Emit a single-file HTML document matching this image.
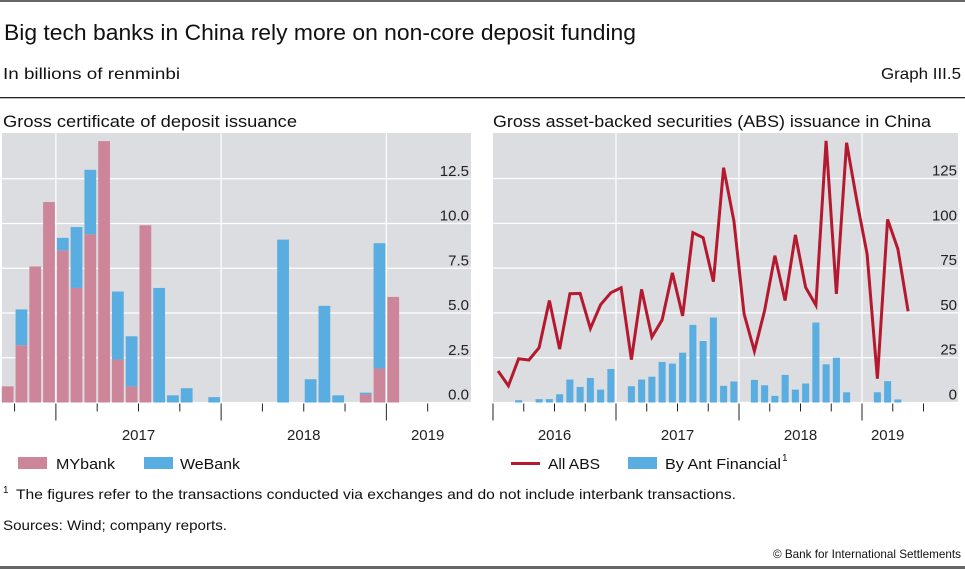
<!DOCTYPE html>
<html><head><meta charset="utf-8"><style>
html,body{margin:0;padding:0;background:#fff;}
svg{display:block;font-family:"Liberation Sans",sans-serif;}
</style></head><body>
<svg id="chart" width="965" height="569" viewBox="0 0 965 569" xmlns="http://www.w3.org/2000/svg">
<rect x="0" y="0" width="965" height="2" fill="#666"/>
<rect x="0" y="566" width="965" height="3" fill="#666"/>
<text x="4" y="40" font-size="22" fill="#111" textLength="632" lengthAdjust="spacingAndGlyphs">Big tech banks in China rely more on non-core deposit funding</text>
<text x="3" y="79" font-size="16" fill="#111" textLength="177" lengthAdjust="spacingAndGlyphs">In billions of renminbi</text>
<text x="961" y="79" font-size="16" fill="#111" text-anchor="end" textLength="80" lengthAdjust="spacingAndGlyphs">Graph III.5</text>
<rect x="0" y="97" width="965" height="1.3" fill="#222"/>
<text x="3" y="127" font-size="17" fill="#111" textLength="294" lengthAdjust="spacingAndGlyphs">Gross certificate of deposit issuance</text>
<text x="493" y="127" font-size="17" fill="#111" textLength="438" lengthAdjust="spacingAndGlyphs">Gross asset-backed securities (ABS) issuance in China</text>
<g id="left"></g>
<g id="right"></g>
<g>
<rect x="18" y="457" width="29" height="12" fill="#cc8599"/>
<text x="56" y="469" font-size="15" fill="#111" textLength="59" lengthAdjust="spacingAndGlyphs">MYbank</text>
<rect x="144" y="457" width="29" height="12" fill="#5aade0"/>
<text x="180" y="469" font-size="15" fill="#111" textLength="60" lengthAdjust="spacingAndGlyphs">WeBank</text>
</g>
<g>
<rect x="511" y="462" width="29" height="3" fill="#b5192f"/>
<text x="548" y="469" font-size="15" fill="#111" textLength="52" lengthAdjust="spacingAndGlyphs">All ABS</text>
<rect x="628" y="457" width="29" height="12" fill="#5aade0"/>
<text x="665" y="469" font-size="15" fill="#111" textLength="116" lengthAdjust="spacingAndGlyphs">By Ant Financial</text>
<text x="782" y="461" font-size="10" fill="#111">1</text>
</g>
<text x="3" y="493" font-size="10" fill="#111">1</text>
<text x="16" y="499" font-size="14" fill="#111" textLength="720" lengthAdjust="spacingAndGlyphs">The figures refer to the transactions conducted via exchanges and do not include interbank transactions.</text>
<text x="3" y="530" font-size="14" fill="#111" textLength="224" lengthAdjust="spacingAndGlyphs">Sources: Wind; company reports.</text>
<text x="961" y="558" font-size="12" fill="#111" text-anchor="end" textLength="188" lengthAdjust="spacingAndGlyphs">© Bank for International Settlements</text>
</svg>
<script>
// Left chart data: monthly, Sep 2016 .. Jan 2019
const cdMonths = ["2016-09","2016-10","2016-11","2016-12","2017-01","2017-02","2017-03","2017-04","2017-05","2017-06","2017-07","2017-08","2017-09","2017-10","2017-11","2017-12","2018-01","2018-02","2018-03","2018-04","2018-05","2018-06","2018-07","2018-08","2018-09","2018-10","2018-11","2018-12","2019-01"];
const myBank = [0.9,3.2,7.6,11.2,8.5,6.4,9.4,14.6,2.4,0.9,9.9,0,0,0,0,0,0,0,0,0,0,0,0,0,0,0,0.45,1.9,5.9];
const weBank = [0,2.0,0,0,0.7,3.4,3.6,0,3.8,2.8,0,6.4,0.4,0.8,0,0.3,0,0,0,0,9.1,0,1.3,5.4,0.4,0,0.1,7.0,0];
const leftTicks = [0,2.5,5,7.5,10,12.5];
const leftTickLabels = ["0.0","2.5","5.0","7.5","10.0","12.5"];
const leftYears = ["2017","2018","2019"];
// Right chart data: monthly, Jan 2016 .. May 2019
const absMonths = ["2016-01","2016-02","2016-03","2016-04","2016-05","2016-06","2016-07","2016-08","2016-09","2016-10","2016-11","2016-12","2017-01","2017-02","2017-03","2017-04","2017-05","2017-06","2017-07","2017-08","2017-09","2017-10","2017-11","2017-12","2018-01","2018-02","2018-03","2018-04","2018-05","2018-06","2018-07","2018-08","2018-09","2018-10","2018-11","2018-12","2019-01","2019-02","2019-03","2019-04","2019-05"];
const allAbs = [17.6,9.3,24.4,23.7,30.6,56.9,29.8,60.7,60.9,41.3,54.6,61.3,64,23.9,63.1,36.5,46.1,72.4,48.3,94.8,92,67.4,131,101.3,49.4,28.7,51.3,81.9,56.9,93.5,64.3,54.3,146,60.6,145,112.4,82.8,13.3,102.2,85.6,50.9];
const antFin = [0,0,1.3,0,1.9,1.9,4.6,12.8,8.7,13.7,7.2,18.7,0,9.1,12.8,14.4,22.6,21.7,27.8,43.3,34.3,47.4,9.3,11.7,0,12.6,9.6,3.7,15.4,7.2,10.6,44.6,21.3,25,5.7,0,0,5.7,11.9,1.7,0];
const rightTicks = [0,25,50,75,100,125];
const rightTickLabels = ["0","25","50","75","100","125"];
const rightYears = ["2016","2017","2018","2019"];

const NS="http://www.w3.org/2000/svg";
function mk(parent,tag,attrs){const e=document.createElementNS(NS,tag);for(const k in attrs)e.setAttribute(k,attrs[k]);parent.appendChild(e);return e;}

// ---- Left ----
(function(){
  const g=document.getElementById('left');
  const x0=2,x1=471,yTop=133,yBase=402.5,pxPerUnit=17.9,monthW=13.77;
  const startX=0.8; // Sep 2016 left edge
  const xM=i=>startX+i*monthW;
  const y=v=>yBase-v*pxPerUnit;
  const bg=mk(g,'rect',{x:x0,y:yTop,width:x1-x0,height:yBase-yTop,fill:'#dcdde0'});
  
  
  leftTicks.forEach((t,i)=>{
    const l=mk(g,'line',{x1:x0,x2:x1,y1:y(t),y2:y(t),stroke:'#fff','stroke-width':1.2});
    
    
    const tx=mk(g,'text',{x:469,y:y(t)-3,'font-size':15,fill:'#222','text-anchor':'end'});
    tx.textContent=leftTickLabels[i];
    
    
  });
  [4,16,28].forEach(i=>{
    const l=mk(g,'line',{x1:xM(i),x2:xM(i),y1:yTop,y2:yBase,stroke:'#fff','stroke-width':1.2});
    
    
  });
  cdMonths.forEach((m,i)=>{
    const bx=xM(i)+1,bw=monthW-2;
    if(myBank[i]>0){
      const r=mk(g,'rect',{x:bx,y:y(myBank[i]),width:bw,height:myBank[i]*pxPerUnit,fill:'#cc8599'});
      
      
    }
    if(weBank[i]>0){
      const r=mk(g,'rect',{x:bx,y:y(myBank[i]+weBank[i]),width:bw,height:weBank[i]*pxPerUnit,fill:'#5aade0'});
      
      
    }
  });
  for(let q=0;q<=10;q++){
    const mi=1+q*3; const xx=xM(mi);
    const major=(mi-4)%12===0;
    const l=mk(g,'line',{x1:xx,x2:xx,y1:yBase+1,y2:yBase+(major?18:9),stroke:'#222','stroke-width':1});
    
    
  }
  const labX=[xM(4)+6*monthW,xM(16)+6*monthW,xM(28)+3*monthW];
  leftYears.forEach((yr,i)=>{
    const t=mk(g,'text',{x:labX[i],y:440,'font-size':15,fill:'#222','text-anchor':'middle'});
    t.textContent=yr;
    
    
  });
})();

// ---- Right ----
(function(){
  const g=document.getElementById('right');
  const x0=493,x1=958,yTop=133,yBase=402.5,pxPerUnit=44.8/25,monthW=123/12;
  const xM=i=>x0+i*monthW;
  const y=v=>yBase-v*pxPerUnit;
  const bg=mk(g,'rect',{x:x0,y:yTop,width:x1-x0,height:yBase-yTop,fill:'#dcdde0'});
  
  
  rightTicks.forEach((t,i)=>{
    const l=mk(g,'line',{x1:x0,x2:x1,y1:y(t),y2:y(t),stroke:'#fff','stroke-width':1.2});
    
    
    const tx=mk(g,'text',{x:957,y:y(t)-3,'font-size':15,fill:'#222','text-anchor':'end'});
    tx.textContent=rightTickLabels[i];
    
    
  });
  [12,24,36].forEach(i=>{
    const l=mk(g,'line',{x1:xM(i),x2:xM(i),y1:yTop,y2:yBase,stroke:'#fff','stroke-width':1.2});
    
    
  });
  absMonths.forEach((m,i)=>{
    if(antFin[i]>0){
      const r=mk(g,'rect',{x:xM(i)+1.6,y:y(antFin[i]),width:monthW-3.2,height:antFin[i]*pxPerUnit,fill:'#5aade0'});
      
      
    }
  });
  const pts=allAbs.map((v,i)=>(xM(i)+monthW/2).toFixed(1)+','+y(v).toFixed(1)).join(' ');
  const pl=mk(g,'polyline',{points:pts,fill:'none',stroke:'#b5192f','stroke-width':3,'stroke-linejoin':'miter'});
  
  
  for(let q=0;q<=14;q++){
    const mi=q*3; const xx=xM(mi);
    const major=mi%12===0;
    const l=mk(g,'line',{x1:xx,x2:xx,y1:yBase+1,y2:yBase+(major?18:9),stroke:'#222','stroke-width':1});
    
    
  }
  const labX=[xM(6),xM(18),xM(30),xM(36)+2.5*monthW];
  rightYears.forEach((yr,i)=>{
    const t=mk(g,'text',{x:labX[i],y:440,'font-size':15,fill:'#222','text-anchor':'middle'});
    t.textContent=yr;
    
    
  });
})();
</script>
</body></html>
